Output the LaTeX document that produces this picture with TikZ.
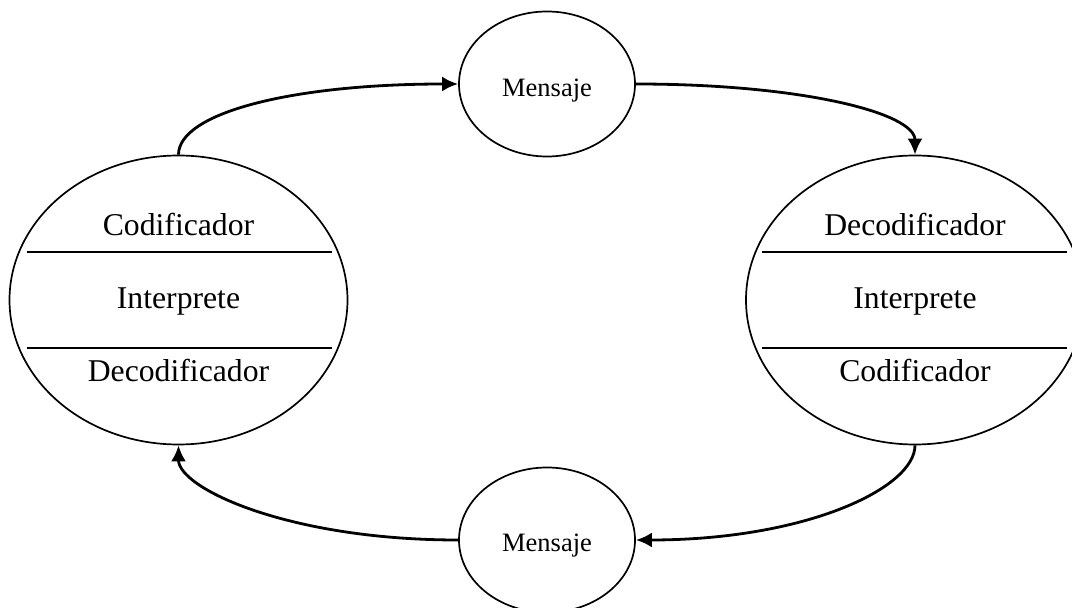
\documentclass[tikz,border=0pt]{standalone}
\usepackage{fontspec}
\setmainfont{Liberation Serif}
\usetikzlibrary{arrows.meta}
\usetikzlibrary{positioning,shapes,fit}

\begin{document}
\begin{tikzpicture}[%
        x=1pt, y=1pt,
        oval/.style={ellipse, draw, line width=1.7pt, inner sep=0pt},
        big/.style={oval, minimum width=338pt, minimum height=289pt},
        msg/.style={oval, minimum width=176pt, minimum height=145pt, font=\fontsize{26.5}{30}\selectfont},
        lbl/.style={anchor=base, inner sep=0pt, font=\fontsize{31.7}{36}\selectfont},
        sep/.style={line width=1.7pt},
        flow/.style={->, line width=2.8pt},
        >={Latex[length=16pt,width=15pt]}
      ]
      \useasboundingbox (0,0) rectangle (1072,608);
      \node [big] (emisor) at (178.5,308) {};
      \node [big] (receptor) at (915,308) {};
      \node [msg] (ida) at (547,524) {\raisebox{-12.5pt}[0pt][0pt]{Mensaje}};
      \node [msg] (vuelta) at (547,68) {\raisebox{-12pt}[0pt][0pt]{Mensaje}};
      % emisor
      \node [lbl] (ecod) at ([yshift=64]emisor.center) {Codificador};
      \node [lbl] (eint) at ([yshift=-9]emisor.center) {Interprete};
      \node [lbl] (edec) at ([yshift=-82]emisor.center) {Decodificador};
      \draw [sep] ([shift={(-152,48)}]emisor.center) -- ([shift={(153,48)}]emisor.center);
      \draw [sep] ([shift={(-152,-48)}]emisor.center) -- ([shift={(153,-48)}]emisor.center);
      % receptor
      \node [lbl] (rdec) at ([yshift=64]receptor.center) {Decodificador};
      \node [lbl] (rint) at ([yshift=-9]receptor.center) {Interprete};
      \node [lbl] (rcod) at ([yshift=-82]receptor.center) {Codificador};
      \draw [sep] ([shift={(-153,48)}]receptor.center) -- ([shift={(152,48)}]receptor.center);
      \draw [sep] ([shift={(-153,-48)}]receptor.center) -- ([shift={(152,-48)}]receptor.center);
      \path [draw, flow] (emisor.north) to[out=90, in=180, out looseness=0.37, in looseness=1.48] (ida.west);
      \path [draw, flow] (ida.east) to[out=0, in=90, out looseness=1.48, in looseness=0.37] (receptor.north);
      \path [draw, flow] (receptor.south) to[out=-90, in=0, out looseness=0.37, in looseness=1.48] (vuelta.east);
      \path [draw, flow] (vuelta.west) to[out=180, in=-90, out looseness=1.48, in looseness=0.37] (emisor.south);
    \end{tikzpicture}
\end{document}
